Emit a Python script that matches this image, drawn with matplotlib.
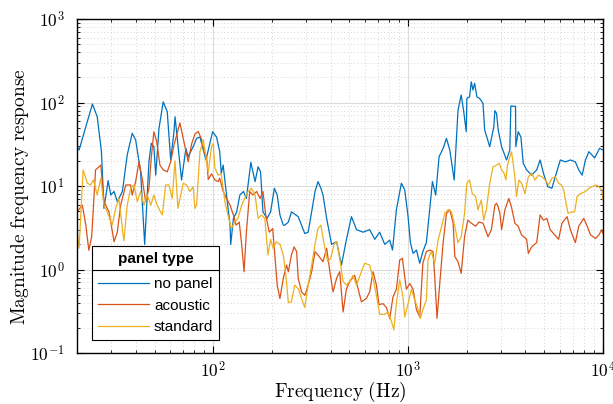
import matplotlib
matplotlib.use("Agg")
import matplotlib.pyplot as plt
from matplotlib.lines import Line2D
from matplotlib.ticker import LogLocator, NullFormatter, FuncFormatter
import numpy as np

# values (Hz, magnitude)
freq_no_panel = [20, 20.5, 24.0, 25.4, 26.7, 27.5, 28.9, 29.8, 31.0, 32.2, 34.2, 36.2, 38.4, 40.0,
                 42.4, 44.5, 46.8, 48.1, 49.6, 50.7, 52.7, 55.4, 58.1, 60.5, 62.9, 63.7, 68.8, 72.4,
                 74.4, 78.9, 82.2, 85.5, 91.8, 99.3, 104, 108, 110, 112.5, 116, 122, 123, 127, 132,
                 137, 143, 148, 156, 164, 170, 175, 180, 189, 197, 206, 213, 220, 229, 233, 243, 252,
                 273, 295, 307, 320, 333, 345, 357, 366, 382, 405, 430, 455, 483, 512, 544, 588, 635,
                 675, 715, 759, 805, 832, 871, 924, 961, 1000, 1028, 1061, 1104, 1148, 1191, 1241,
                 1291, 1333, 1386, 1442, 1513, 1574, 1637, 1724, 1804, 1873, 1926, 1988, 2003, 2068,
                 2110, 2152, 2195, 2256, 2329, 2423, 2472, 2624, 2753, 2788, 2844, 2901, 3019, 3201,
                 3327, 3367, 3560, 3573, 3674, 3793, 3900, 4059, 4308, 4572, 4758, 4951, 5215, 5470,
                 5693, 6041, 6413, 6806, 7218, 7513, 7818, 8136, 8467, 9066, 9618, 10000]
mag_no_panel = [29.6, 27, 96, 67.6, 25.8, 5.4, 11.6, 7.8, 8.6, 6.5, 8.6, 23.5, 42.8, 35.6,
                14.8, 2.0, 19.5, 32.4, 29.6, 13.5, 49.1, 102, 77.6, 20.5, 44.7, 67.6, 11.8, 28.3,
                22.4, 29.6, 37.2, 38.6, 20.5, 44.7, 38.6, 25.8, 14.2, 17.8, 9.4, 3.4, 2.0, 4.1, 4.9,
                7.8, 8.6, 7.1, 19.2, 11.3, 17.0, 14.8, 4.9, 4.1, 4.9, 9.4, 7.8, 4.5, 3.4, 3.4, 3.7, 4.9,
                4.3, 2.7, 2.8, 4.9, 8.6, 11.3, 9.4, 7.8, 4.1, 2.0, 2.15, 1.13, 2.3, 4.3, 3.0, 2.8, 3.0,
                2.3, 2.8, 2.0, 2.25, 1.71, 5.2, 10.8, 9.0, 4.3, 2.1, 1.56, 1.71, 1.19, 1.64, 2.1,
                5.2, 11.3, 7.8, 22.4, 28.3, 37.2, 27, 11.8, 81, 123, 81, 44.7, 112, 117,
                177, 141, 170, 117, 112, 98, 47, 29.6, 51, 80, 74, 47, 29.6, 20.5,
                27, 91, 90, 29.6, 44.7, 38.6, 18.7, 15.6, 13.5, 15.6, 20.5, 14.2, 9.8, 9.4,
                12.9, 20.5, 19.5, 20.5, 19.5, 15.6, 13.5, 20.5, 25.8, 21.7, 28.3, 27]

freq_acoustic = [20, 21.3, 22.2, 23.0, 23.8, 24.9, 26.5, 27.5, 29.2, 31.0, 32.2, 33.5, 35.6, 37.7,
                 38.4, 40.0, 41.6, 43.2, 45.0, 46.8, 48.1, 49.6, 51.3, 53.3, 55.4, 58.1, 60.5, 62.9,
                 67.5, 71.6, 74.4, 77.5, 80.6, 83.8, 87.2, 89.6, 92.5, 94.3, 98.1, 102, 106, 108,
                 112.5, 117, 122, 127, 131, 136, 140, 144, 148, 154, 160, 167, 174, 180, 186, 194,
                 202, 207, 213, 220, 229, 238, 243, 252, 260, 268, 273, 284, 295, 307, 320, 333, 345,
                 366, 382, 397, 412, 430, 446, 464, 483, 502, 532, 554, 576, 611, 635, 661, 688, 709,
                 744, 774, 805, 837, 871, 906, 935, 961, 980, 1020, 1061, 1104, 1148, 1191, 1241,
                 1291, 1343, 1370, 1408, 1454, 1513, 1574, 1637, 1703, 1737, 1804, 1873, 1949, 2027,
                 2110, 2221, 2310, 2423, 2572, 2676, 2788, 2844, 2901, 2959, 3019, 3140, 3289, 3394,
                 3531, 3674, 3824, 4059, 4141, 4308, 4572, 4758, 4951, 5153, 5362, 5580, 5922, 6163,
                 6542, 6806, 7218, 7513, 7975, 8300, 8637, 9170, 9541, 9851, 10000]
mag_acoustic = [4.9, 5.9, 3.4, 1.7, 2.5, 15.6, 17.8, 6.5, 4.9, 2.15, 2.8, 5.9, 10.3, 10.3,
                7.8, 11.3, 19.5, 12.4, 6.5, 9.4, 21.7, 44.7, 34, 17.8, 15.6, 14.8, 19.5, 31,
                57, 30, 19.5, 32, 42, 45, 36, 26, 22, 12, 14, 11.8, 11.3, 12.4,
                8.6, 7.1, 5.9, 4.5, 3.4, 3.7, 2.0, 0.94, 2.8, 8.6, 7.8, 8.6, 7.1, 8.6, 4.5, 2.8,
                3.1, 1.49, 0.65, 0.45, 0.79, 1.13, 0.94, 1.49, 1.87, 1.64, 0.79, 0.54, 0.49, 0.65, 0.94, 1.64, 1.49,
                1.24, 1.80, 0.94, 0.54, 0.79, 0.94, 0.31, 0.59, 0.72, 0.85, 0.59, 0.41, 0.45, 0.54, 0.94, 0.65, 0.38,
                0.39, 0.35, 0.26, 0.47, 0.58, 1.3, 1.36, 0.83, 0.58, 0.68, 0.58, 0.33, 0.27, 1.19, 1.64,
                1.71, 1.64, 0.83, 0.26, 0.68, 2.1, 4.7, 5.2, 3.6, 1.43, 1.24, 0.90, 2.47, 3.9,
                3.6, 3.3, 3.7, 3.6, 2.47, 3.0, 5.9, 6.2, 5.6, 4.7, 3.0, 5.2, 7.1, 5.6,
                3.6, 3.3, 2.59, 2.3, 1.56, 1.87, 2.1, 4.5, 3.9, 4.1, 3.0, 2.7, 2.3, 3.6,
                4.3, 3.0, 2.1, 3.3, 4.1, 3.3, 2.6, 2.35, 2.6, 3.0, 2.7]

freq_standard = [20, 20.5, 21.5, 22.6, 23.5, 24.3, 25.4, 26.5, 27.5, 28.6, 30.3, 31.6, 32.8, 34.8,
                 36.2, 37.7, 39.2, 40.8, 42.4, 44.1, 45.9, 47.8, 49.6, 51.6, 53.7, 54.8, 57.0, 59.3,
                 61.6, 63.7, 65.9, 68.1, 70.2, 73.0, 75.9, 78.9, 80.6, 82.2, 85.5, 88.9, 91.8, 94.3,
                 98.1, 100, 102, 106, 110, 114.8, 119, 124, 129, 134, 140, 145, 151, 157, 164, 170,
                 177, 184, 191, 197, 203, 211, 220, 229, 236, 243, 252, 262, 273, 284, 295, 307, 320,
                 333, 345, 357, 371, 387, 401, 417, 430, 446, 464, 483, 502, 522, 544, 576, 599, 635,
                 661, 688, 715, 759, 789, 821, 845, 871, 906, 942, 961, 1000, 1040, 1082, 1126, 1158,
                 1191, 1241, 1266, 1291, 1317, 1370, 1425, 1454, 1501, 1543, 1605, 1670, 1737, 1804,
                 1873, 1949, 2003, 2068, 2135, 2221, 2283, 2376, 2443, 2522, 2624, 2730, 2844, 2936,
                 3019, 3113, 3175, 3239, 3327, 3394, 3462, 3531, 3602, 3704, 3824, 3979, 4141, 4308,
                 4482, 4664, 4854, 5051, 5257, 5470, 5693, 5922, 6113, 6287, 6467, 6620, 6943, 7160,
                 7365, 7663, 8136, 8467, 8811, 9170, 9541, 9851, 10000]
mag_standard = [3.1, 1.8, 15.6, 10.8, 10.3, 11.8, 7.8, 12.4, 5.9, 4.9, 3.4, 5.4, 7.1, 2.2,
                5.9, 9.4, 10.3, 6.5, 8.6, 5.9, 7.8, 5.9, 7.8, 5.9, 4.9, 4.5, 10.3, 10.3,
                7.1, 20, 5.4, 7.8, 10.8, 10.3, 8.6, 9.8, 5.4, 6.0, 25.8, 35.6, 22, 14.8,
                29.6, 32.4, 16.5, 13.5, 14, 6.5, 4.5, 3.1, 3.7, 4.1, 5.9, 7.1, 8.6, 9.4, 7.8, 4.1,
                4.5, 4.1, 1.49, 2.3, 1.80, 2.15, 2.0, 1.49, 0.85, 0.40, 0.41, 0.65, 0.59, 0.45, 0.35, 0.65, 1.13,
                2.0, 3.1, 3.4, 2.0, 1.24, 1.36, 2.0, 2.15, 1.36, 0.72, 0.65, 0.72, 0.85, 0.65, 0.94, 1.19, 1.13,
                0.79, 0.49, 0.29, 0.29, 0.31, 0.24, 0.19, 0.39, 0.75, 0.47, 0.27, 0.39, 0.58, 0.43, 0.33, 0.26,
                0.33, 0.43, 1.3, 1.49, 1.64, 1.19, 2.25, 2.7, 3.6, 4.7, 5.2, 4.9, 3.3, 2.1,
                2.47, 4.7, 10.8, 11.8, 8.1, 7.5, 5.2, 6.8, 3.9, 5.2, 10.8, 17.0, 17.8, 18.7,
                15.6, 14.2, 11.8, 17.8, 22.4, 25.8, 18.7, 12.9, 7.5, 11.8, 10.8, 8.1, 12.9, 14.2,
                11.8, 13.5, 12.9, 11.8, 10.3, 12.4, 12.9, 10.8, 10.3, 9.0, 6.2, 4.7, 4.9, 4.9,
                7.5, 8.1, 8.6, 9.4, 9.8, 10.3, 9.8, 9.0, 6.8]

series_labels = ["no panel", "acoustic", "standard"]
series_colors = ["#0072BD", "#D95319", "#EDB120"]

plt.rcParams["mathtext.fontset"] = "cm"
plt.rcParams["font.family"] = ["Liberation Sans", "DejaVu Sans"]

fig = plt.figure(figsize=(6.13, 4.04), dpi=100)
ax = fig.add_axes([0.1256, 0.1262, 0.858, 0.8267])

for f, m, lab, col in zip([freq_no_panel, freq_acoustic, freq_standard],
                          [mag_no_panel, mag_acoustic, mag_standard],
                          series_labels, series_colors):
    ax.plot(f, m, color=col, lw=0.9, label=lab)

ax.set_xscale("log")
ax.set_yscale("log")
ax.set_xlim(20, 10000)
ax.set_ylim(0.1, 1000)

pow10 = FuncFormatter(lambda v, pos: r"$10^{%d}$" % int(round(np.log10(v))))
for axis in (ax.xaxis, ax.yaxis):
    axis.set_minor_locator(LogLocator(base=10, subs=range(2, 10), numticks=20))
    axis.set_minor_formatter(NullFormatter())
    axis.set_major_formatter(pow10)
ax.tick_params(which="both", direction="in", top=True, right=True, labelsize=12.5)
ax.tick_params(which="major", length=5, width=0.8)
ax.tick_params(which="minor", length=2.5, width=0.6)
ax.tick_params(axis="y", which="major", pad=9)
ax.tick_params(axis="x", which="major", pad=5)
ax.grid(which="major", color="#dcdcdc", lw=0.8, ls="-")
ax.grid(which="minor", color="#c8c8c8", lw=0.6, ls=(0, (1, 3)))
ax.set_axisbelow(True)
for sp in ax.spines.values():
    sp.set_linewidth(1.0)

ax.set_xlabel(r"$\mathrm{Frequency\ (Hz)}$", fontsize=14, labelpad=0)
ax.set_ylabel(r"$\mathrm{Magnitude\ frequency\ response}$", fontsize=14)
ax.yaxis.set_label_coords(-0.087, 0.47)

leg = ax.legend(loc="lower left", bbox_to_anchor=(0.028, 0.039), title="panel type",
                fontsize=11, title_fontproperties={"weight": "bold", "size": 11},
                frameon=True, fancybox=False, edgecolor="black", framealpha=1,
                handlelength=3.4, handletextpad=0.3, borderpad=0.38, labelspacing=0.5,
                borderaxespad=0)
leg.get_frame().set_linewidth(0.8)
leg._legend_box.sep = 8  # a bit more room under the title

# separator under the legend title, like MATLAB draws it
fig.canvas.draw()
inv = fig.transFigure.inverted()
fb = leg.get_frame().get_window_extent()
tb = leg.get_title().get_window_extent()
y_sep = inv.transform((0, tb.y0 - 4))[1]
x0 = inv.transform((fb.x0, 0))[0]
x1 = inv.transform((fb.x1, 0))[0]
fig.add_artist(Line2D([x0, x1], [y_sep, y_sep], color="black", lw=0.8, transform=fig.transFigure))

fig.savefig("out.png", dpi=100)
